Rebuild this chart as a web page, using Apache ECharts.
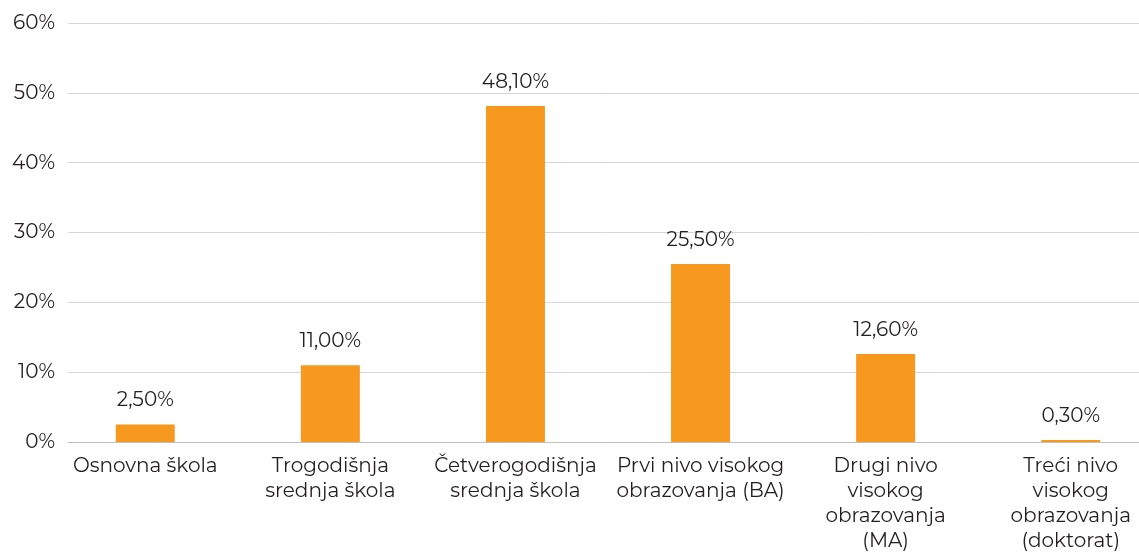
<!DOCTYPE html>
<html>
<head>
<meta charset="utf-8">
<script src="https://cdn.jsdelivr.net/npm/echarts@6/dist/echarts.min.js"></script>
<style>
  html, body { margin: 0; padding: 0; background: #fff; }
  #chart { width: 1139px; height: 552px; }
</style>
</head>
<body>
<div id="chart"></div>
<script>
// data
var categories = [
  "Osnovna škola",
  "Trogodišnja\nsrednja škola",
  "Četverogodišnja\nsrednja škola",
  "Prvi nivo visokog\nobrazovanja (BA)",
  "Drugi nivo\nvisokog\nobrazovanja\n(MA)",
  "Treći nivo\nvisokog\nobrazovanja\n(doktorat)"
];
var values = [2.5, 11.0, 48.1, 25.5, 12.6, 0.3];
var yTicks = [0, 10, 20, 30, 40, 50, 60];

var font = "Montserrat, 'Noto Sans', sans-serif";
var textColor = "#231F20";
var fs = 20;

var myChart = echarts.init(document.getElementById("chart"));
var option = {
  animation: false,
  textStyle: { fontFamily: font },
  grid: [
    // bars (category bands are a bit wider than the gridlines)
    { left: 52.7, width: 1110.6, top: 23, bottom: 110, containLabel: false, outerBoundsMode: "none" },
    // gridlines + y labels
    { left: 68, right: 0, top: 23, bottom: 110, containLabel: false, outerBoundsMode: "none" }
  ],
  xAxis: [
    {
      gridIndex: 0,
      type: "category",
      data: categories,
      axisLine: { show: false },
      axisTick: { show: false },
      axisLabel: {
        color: textColor,
        fontSize: fs,
        fontFamily: font,
        lineHeight: 25,
        margin: 12,
        interval: 0
      }
    },
    {
      gridIndex: 1,
      type: "value",
      min: 0,
      max: 1,
      axisLine: { show: true, lineStyle: { color: "#BFBFBF", width: 1 } },
      axisTick: { show: false },
      axisLabel: { show: false },
      splitLine: { show: false }
    }
  ],
  yAxis: [
    {
      gridIndex: 0,
      type: "value",
      min: yTicks[0],
      max: yTicks[yTicks.length - 1],
      interval: 10,
      show: false
    },
    {
      gridIndex: 1,
      type: "value",
      min: yTicks[0],
      max: yTicks[yTicks.length - 1],
      interval: 10,
      axisLine: { show: false },
      axisTick: { show: false },
      splitLine: { lineStyle: { color: "#D6D6D6", width: 1 } },
      axisLabel: {
        color: textColor,
        fontSize: fs,
        fontFamily: font,
        margin: 13,
        formatter: function (v) { return v + "%"; }
      }
    }
  ],
  series: [
    {
      type: "bar",
      xAxisIndex: 0,
      yAxisIndex: 0,
      data: values,
      barWidth: 59,
      itemStyle: { color: "#F7981F" },
      label: {
        show: true,
        position: "top",
        distance: 14,
        color: textColor,
        fontSize: fs,
        fontFamily: font,
        formatter: function (p) {
          return p.value.toFixed(2).replace(".", ",") + "%";
        }
      }
    }
  ]
};
option && myChart.setOption(option);
</script>
</body>
</html>
